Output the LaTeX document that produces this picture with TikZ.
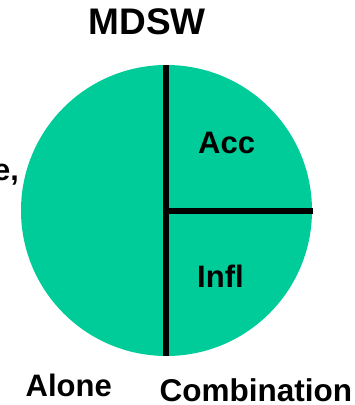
\documentclass[tikz,border=0pt]{standalone}
\usepackage{fontspec}
\setmainfont{Liberation Sans}
\definecolor{piegreen}{RGB}{0,204,153}
\begin{document}
\begin{tikzpicture}[x=1pt,y=-1pt,
  lbl/.style={anchor=base west,inner sep=0pt,font=\bfseries\fontsize{31}{33}\selectfont},
  ttl/.style={anchor=base west,inner sep=0pt,font=\bfseries\fontsize{37}{39}\selectfont},
  divider/.style={line width=5.5pt,black}]
\useasboundingbox (0,0) rectangle (355,405);
\node[circle,fill=piegreen,inner sep=0pt,minimum size=291pt] (pie) at (166.5,210.5) {};
\coordinate (vtop) at (166,65);
\coordinate (vbot) at (166,356);
\coordinate (hmid) at (166,211);
\coordinate (hend) at (312.5,211);
\draw[divider] (vtop) -- (vbot);
\draw[divider] (hmid) -- (hend);
\node[ttl] (title) at (88.5,34) {MDSW};
\node[lbl] (acc) at (198,153.3) {Acc};
\node[lbl] (infl) at (197,287.7) {Infl};
\node[lbl] (alone) at (25.5,396) {Alone};
\node[lbl,font=\bfseries\fontsize{31.5}{33}\selectfont] (comb) at (159.5,401.5) {Combination};
\node[anchor=base east,inner sep=0pt,font=\bfseries\fontsize{30.5}{32}\selectfont] (cut) at (19,180) {e,};
\end{tikzpicture}
\end{document}
